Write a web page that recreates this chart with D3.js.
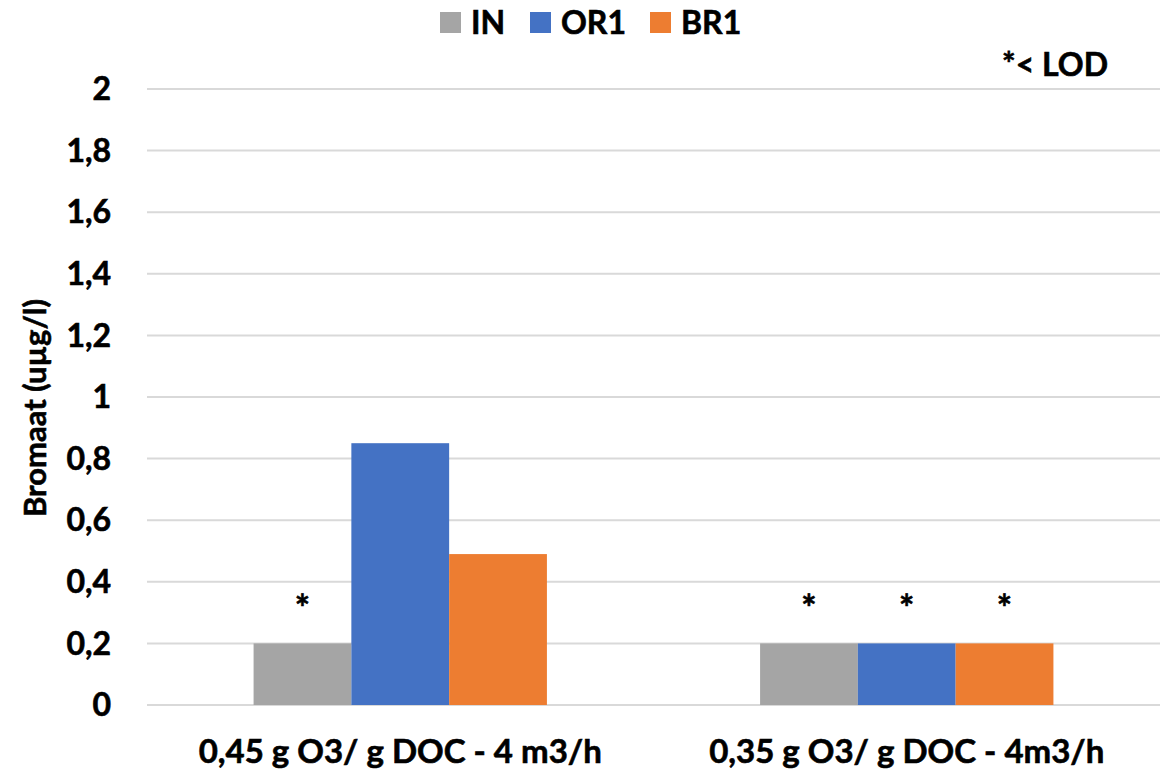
<!DOCTYPE html>
<html>
<head>
<meta charset="utf-8">
<script src="https://cdn.jsdelivr.net/npm/d3@7"></script>
<style>
  body { margin: 0; background: #fff; }
  svg { font-family: Lato, "Open Sans", sans-serif; font-weight: 700; }
  text { stroke: #000; stroke-width: 0.6px; }
</style>
</head>
<body>
<svg id="chart" width="1168" height="772"></svg>
<script>
const categories = ['0,45 g O3/ g DOC - 4 m3/h', '0,35 g O3/ g DOC - 4m3/h']
const seriesNames = ['IN', 'OR1', 'BR1']
const seriesColors = ['#a5a5a5', '#4472c4', '#ed7d31']
const valuesIN = [0.2, 0.2]
const valuesOR1 = [0.85, 0.2]
const valuesBR1 = [0.49, 0.2]
// true = below detection limit, marked with *
const belowLOD = [[true, false, false], [true, true, true]]
const yTicks = [0, 0.2, 0.4, 0.6, 0.8, 1, 1.2, 1.4, 1.6, 1.8, 2]

const svg = d3.select('#chart')
const plotLeft = 147, plotRight = 1160, plotTop = 89, plotBottom = 705

const x = d3.scaleBand().domain(categories).range([plotLeft, plotRight])
const xs = d3.scaleBand().domain(seriesNames).range([0, x.bandwidth()]).paddingOuter(1.09).paddingInner(0)
const y = d3.scaleLinear().domain([0, 2]).range([plotBottom, plotTop])

const fmt = d => String(d).replace('.', ',')

// gridlines
svg.append('g').selectAll('line')
  .data(yTicks)
  .enter().append('line')
  .attr('x1', plotLeft).attr('x2', plotRight)
  .attr('y1', d => y(d)).attr('y2', d => y(d))
  .attr('stroke', '#d9d9d9').attr('stroke-width', 2)

// y tick labels
svg.append('g').selectAll('text')
  .data(yTicks)
  .enter().append('text')
  .attr('x', 111).attr('y', d => y(d))
  .attr('dy', '0.35em')
  .attr('text-anchor', 'end')
  .attr('font-size', 32)
  .text(fmt)

const rows = categories.map((c, i) => ({
  cat: c,
  vals: [valuesIN[i], valuesOR1[i], valuesBR1[i]].map((v, j) => ({ s: seriesNames[j], v: v, j: j, lod: belowLOD[i][j] }))
}))

const groups = svg.append('g').selectAll('g')
  .data(rows)
  .enter().append('g')
  .attr('transform', d => 'translate(' + x(d.cat) + ',0)')

groups.selectAll('rect')
  .data(d => d.vals)
  .enter().append('rect')
  .attr('x', d => xs(d.s))
  .attr('y', d => y(d.v))
  .attr('width', xs.bandwidth())
  .attr('height', d => y(0) - y(d.v))
  .attr('fill', d => seriesColors[d.j])

groups.selectAll('.star')
  .data(d => d.vals.filter(v => v.lod))
  .enter().append('text')
  .attr('class', 'star')
  .attr('x', d => xs(d.s) + xs.bandwidth() / 2)
  .attr('y', d => y(d.v) - 22)
  .attr('text-anchor', 'middle')
  .attr('font-size', 36)
  .text('*')

// category labels
svg.append('g').selectAll('text')
  .data(categories)
  .enter().append('text')
  .attr('x', d => x(d) + x.bandwidth() / 2)
  .attr('y', 763)
  .attr('text-anchor', 'middle')
  .attr('font-size', 33)
  .text(d => d)

// y axis title
svg.append('text')
  .attr('transform', 'translate(46,' + ((plotTop + plotBottom) / 2 + 11) + ') rotate(-90)')
  .attr('text-anchor', 'middle')
  .attr('font-size', 31)
  .text('Bromaat (uµg/l)')

// LOD note
svg.append('text')
  .attr('x', 1108).attr('y', 76)
  .attr('text-anchor', 'end')
  .attr('font-size', 32)
  .text('*< LOD')

// legend
const legendX = [440, 530, 650]
const legend = svg.append('g').selectAll('g')
  .data(seriesNames)
  .enter().append('g')
  .attr('transform', (d, i) => 'translate(' + legendX[i] + ',12)')
legend.append('rect')
  .attr('width', 21).attr('height', 21)
  .attr('fill', (d, i) => seriesColors[i])
  .style('stroke', 'none')
legend.append('text')
  .attr('x', 31).attr('y', 10.5).attr('dy', '0.36em')
  .attr('font-size', 32)
  .text(d => d)
</script>
</body>
</html>
